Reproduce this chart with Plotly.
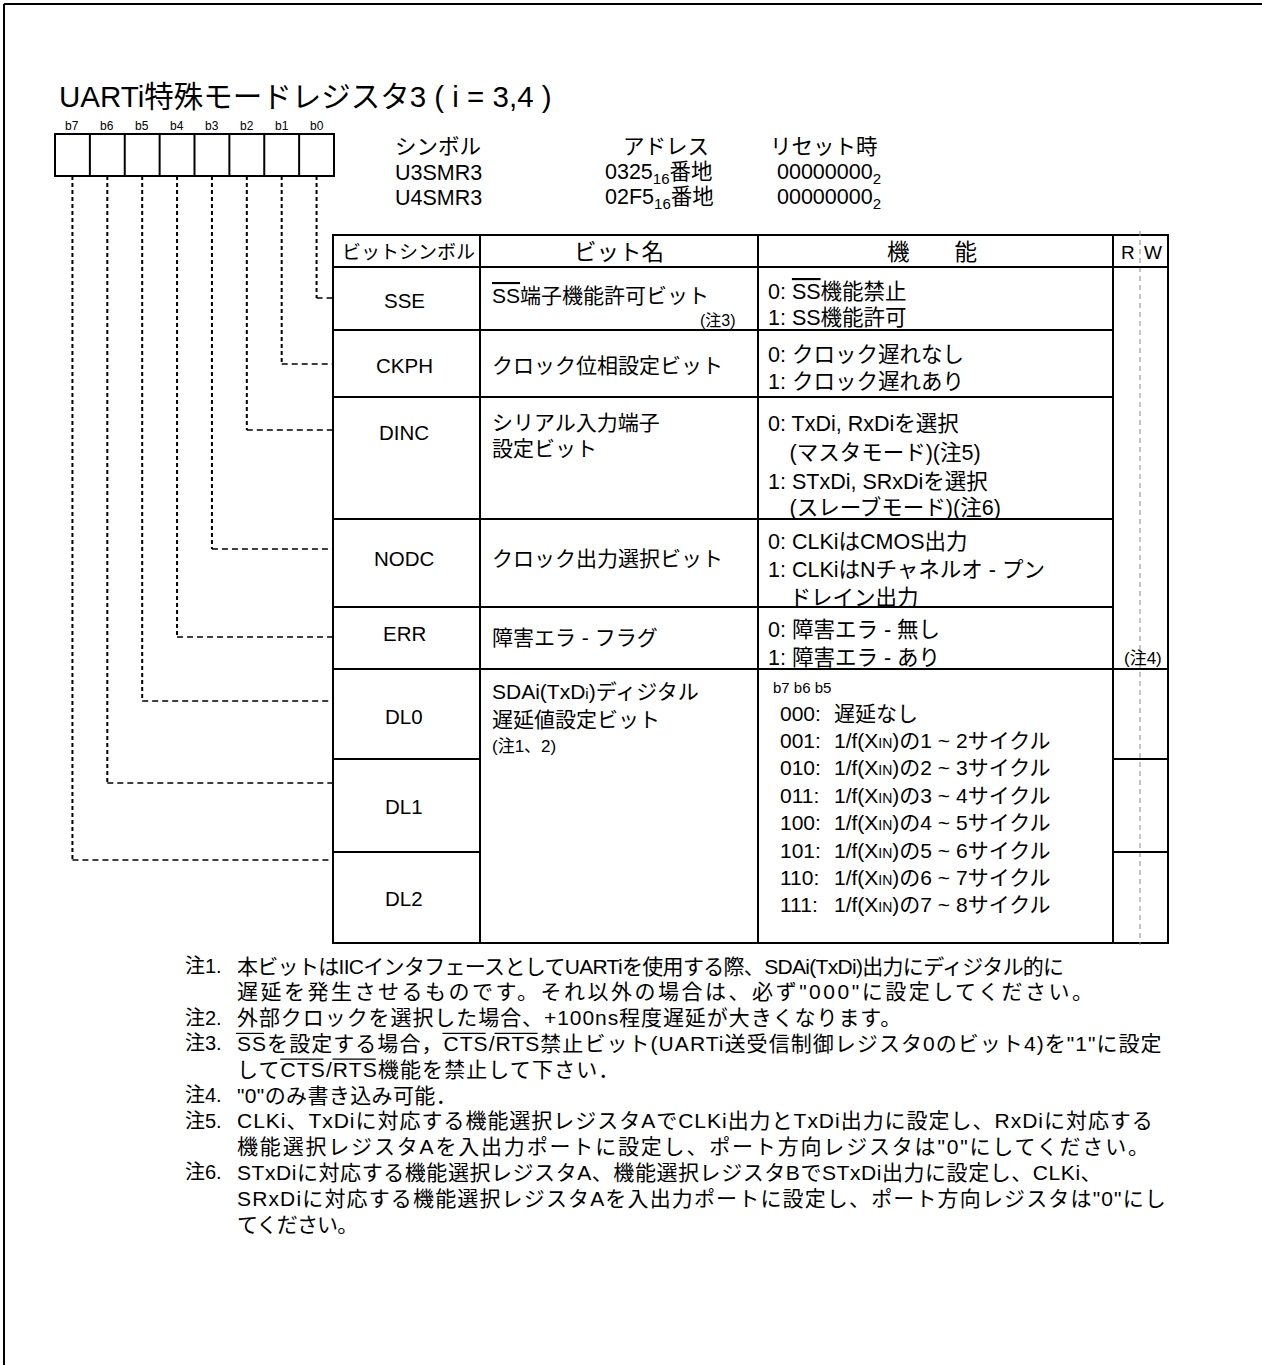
import re
import plotly.graph_objects as go

# ---------------- data ----------------
TITLE = "UARTi特殊モードレジスタ3 ( i = 3,4 )"
BIT_LABELS = ["b7", "b6", "b5", "b4", "b3", "b2", "b1", "b0"]
INFO_HEAD = ["シンボル", "アドレス", "リセット時"]
INFO_SYMBOLS = ["U3SMR3", "U4SMR3"]
INFO_ADDR = ["0325<sub>16</sub>番地", "02F5<sub>16</sub>番地"]
INFO_RESET = ["00000000<sub>2</sub>", "00000000<sub>2</sub>"]
TABLE_HEAD = ["ビットシンボル", "ビット名", "機　　能", "R", "W"]

OV = '<span style="text-decoration:overline">{}</span>'
SYMBOLS = ["SSE", "CKPH", "DINC", "NODC", "ERR", "DL0", "DL1", "DL2"]
BIT_NAMES = [
    [OV.format("SS") + "端子機能許可ビット"],
    ["クロック位相設定ビット"],
    ["シリアル入力端子", "設定ビット"],
    ["クロック出力選択ビット"],
    ["障害エラ - フラグ"],
    ["SDAi(TxD<span style='font-size:15px'>i</span>)ディジタル", "遅延値設定ビット"],
]
BIT_NAME_NOTES = ["(注3)", None, None, None, None, "(注1、2)"]
FUNCTIONS = [
    ["0: " + OV.format("SS") + "機能禁止", "1: SS機能許可"],
    ["0: クロック遅れなし", "1: クロック遅れあり"],
    ["0: TxDi, RxDiを選択", "\u3000(マスタモード)(注5)", "1: STxDi, SRxDiを選択", "\u3000(スレーブモード)(注6)"],
    ["0: CLKiはCMOS出力", "1: CLKiはNチャネルオ - プン", "\u3000ドレイン出力"],
    ["0: 障害エラ - 無し", "1: 障害エラ - あり"],
]
RW_NOTES = ["", "", "", "", "(注4)"]
DL_HEAD = "b7 b6 b5"
DL_CODES = ["000", "001", "010", "011", "100", "101", "110", "111"]
XIN = "X<span style='font-size:14px'>IN</span>"
DL_VALUES = ["遅延なし"] + [f"1/f({XIN})の{k} ~ {k+1}サイクル" for k in range(1, 8)]

# [..] marks an overlined word
NOTE_LABELS = ["注1.", "注2.", "注3.", "注4.", "注5.", "注6."]
NOTE_TEXTS = [
    ["本ビットはIICインタフェースとしてUARTiを使用する際、SDAi(TxDi)出力にディジタル的に",
     "遅延を発生させるものです。それ以外の場合は、必ず\"000\"に設定してください。"],
    ["外部クロックを選択した場合、+100ns程度遅延が大きくなります。"],
    ["[SS]を設定する場合，[CTS]/[RTS]禁止ビット(UARTi送受信制御レジスタ0のビット4)を\"1\"に設定",
     "して[CTS]/[RTS]機能を禁止して下さい．"],
    ["\"0\"のみ書き込み可能．"],
    ["CLKi、TxDiに対応する機能選択レジスタAでCLKi出力とTxDi出力に設定し、RxDiに対応する",
     "機能選択レジスタAを入出力ポートに設定し、ポート方向レジスタは\"0\"にしてください。"],
    ["STxDiに対応する機能選択レジスタA、機能選択レジスタBでSTxDi出力に設定し、CLKi、",
     "SRxDiに対応する機能選択レジスタAを入出力ポートに設定し、ポート方向レジスタは\"0\"にし",
     "てください。"],
]

# ---------------- layout constants ----------------
W, H = 1262, 1365
FONT = "Liberation Sans, Arial, Noto Sans CJK JP, sans-serif"
BOX_X0, BOX_X1, BOX_Y0, BOX_Y1 = 55, 334, 134, 176
T_X0, T_X1, T_X2, T_X3, T_X4 = 333, 480, 758, 1113, 1168
RW_MID = 1140
T_TOP, T_HEAD = 235, 267
ROW_BOTTOMS = [330, 397, 519, 607, 669, 759, 852, 943]
SYM_Y = [300, 365, 432, 558, 633, 716, 806, 898]
CONNECT_Y = [298, 364, 430, 549, 637, 701, 783, 860]  # for b0..b7
NOTE_FS = 21
NOTE_X = 235
NOTE_LINE_ENDS = [1066, 1097, 902, 1162, 620, 455, 1152, 1150, 1100, 1165, 356]

# Arial / Liberation Sans advance widths (em)
_W = {" ": 278, "!": 278, '"': 355, "(": 333, ")": 333, "+": 584, ",": 278, "-": 333,
      ".": 278, "/": 278, ":": 278, "=": 584, "~": 584}
for ch in "0123456789":
    _W[ch] = 556
for ch, w in zip("ABCDEFGHIJKLMNOPQRSTUVWXYZ",
                 [667, 667, 722, 722, 667, 611, 778, 722, 278, 500, 667, 556, 833,
                  722, 778, 667, 778, 722, 667, 611, 722, 667, 944, 667, 667, 611]):
    _W[ch] = w
for ch, w in zip("abcdefghijklmnopqrstuvwxyz",
                 [556, 556, 500, 556, 556, 278, 556, 556, 222, 222, 500, 222, 833,
                  556, 556, 556, 556, 333, 500, 278, 556, 500, 722, 500, 500, 500]):
    _W[ch] = w


def text_em(s):
    return sum(_W.get(ch, 1000 if ord(ch) > 0x2000 else 556) for ch in s) / 1000.0


fig = go.Figure()
shapes = []
ann = []


def line(x0, y0, x1, y1, width=2, dash=None, color="#000"):
    d = dict(type="line", x0=x0, y0=y0, x1=x1, y1=y1, xref="x", yref="y",
             line=dict(color=color, width=width))
    if dash:
        d["line"]["dash"] = dash
    shapes.append(d)


def txt(x, y, s, size=20, anchor="left", yanchor="middle"):
    ann.append(dict(x=x, y=y, xref="x", yref="y", text=s, showarrow=False,
                    xanchor=anchor, yanchor=yanchor,
                    font=dict(family=FONT, size=size, color="#000")))


# page border (left and top)
line(4, 4, W, 4, width=2)
line(4, 4, 4, H, width=2)

# title
txt(57, 96, TITLE, size=29.5)

# register bit boxes
cw = (BOX_X1 - BOX_X0) / 8
shapes.append(dict(type="rect", x0=BOX_X0, x1=BOX_X1, y0=BOX_Y0, y1=BOX_Y1,
                   xref="x", yref="y", line=dict(color="#000", width=2)))
for i in range(1, 8):
    line(BOX_X0 + i * cw, BOX_Y0, BOX_X0 + i * cw, BOX_Y1, width=2)
for i, lab in enumerate(BIT_LABELS):
    txt(BOX_X0 + (i + 0.5) * cw, 126, lab, size=12, anchor="center")

# connectors (b7 ... b0)
for i in range(8):
    cx = BOX_X0 + (i + 0.5) * cw
    cy = CONNECT_Y[7 - i]
    line(cx, BOX_Y1, cx, cy, width=2, dash="4px,3px")
    line(cx, cy, T_X0, cy, width=1.5, dash="6px,4px")

# info block
info_x = [393, 621, 768]
for j, h in enumerate(INFO_HEAD):
    txt(info_x[j], 147, h, size=21.5)
for k in range(2):
    y = 173 + k * 25
    txt(393, y, INFO_SYMBOLS[k], size=21.5)
    txt(603, y, INFO_ADDR[k], size=21.5)
    txt(775, y, INFO_RESET[k], size=21.5)

# table frame
shapes.append(dict(type="rect", x0=T_X0, x1=T_X4, y0=T_TOP, y1=ROW_BOTTOMS[-1],
                   xref="x", yref="y", line=dict(color="#000", width=2)))
for x in (T_X1, T_X2, T_X3):
    line(x, T_TOP, x, ROW_BOTTOMS[-1], width=2)
line(RW_MID, T_TOP - 4, RW_MID, ROW_BOTTOMS[-1] + 2, width=1, dash="5px,4px", color="#888")
line(T_X0, T_HEAD, T_X4, T_HEAD, width=2)
for r, yb in enumerate(ROW_BOTTOMS[:-1]):
    if r < 4:
        line(T_X0, yb, T_X3, yb, width=2)
    elif r == 4:
        line(T_X0, yb, T_X4, yb, width=2)
    else:
        line(T_X0, yb, T_X1, yb, width=2)
        line(T_X3, yb, T_X4, yb, width=2)

# header
txt((T_X0 + T_X1) / 2 + 2, 252, TABLE_HEAD[0], size=19, anchor="center")
txt((T_X1 + T_X2) / 2, 252, TABLE_HEAD[1], size=22.5, anchor="center")
txt(932, 252, TABLE_HEAD[2], size=22.5, anchor="center")
txt(1128, 252, TABLE_HEAD[3], size=19, anchor="center")
txt(1153, 252, TABLE_HEAD[4], size=19, anchor="center")

# bit symbols
for s, y in zip(SYMBOLS, SYM_Y):
    txt(404, y, s, size=20.5, anchor="center")

# bit names
NAME_Y = [[295], [365], [422, 448], [558], [637], [691, 719]]
for names, ys in zip(BIT_NAMES, NAME_Y):
    for s, y in zip(names, ys):
        txt(490, y, s, size=21)
txt(738, 320, BIT_NAME_NOTES[0], size=16, anchor="right")
txt(490, 746, BIT_NAME_NOTES[5], size=17)

# functions
FUNC_Y = [[292, 318], [355, 382], [424, 453, 482, 508], [542, 570, 598], [630, 658]]
for funcs, ys in zip(FUNCTIONS, FUNC_Y):
    for s, y in zip(funcs, ys):
        txt(766, y, s, size=21.5)
txt(1143, 658, RW_NOTES[4], size=17, anchor="center")

# delay table
txt(771, 687, DL_HEAD, size=15)
for k, (c, v) in enumerate(zip(DL_CODES, DL_VALUES)):
    y = 713 + k * 27.4
    txt(778, y, c + ":", size=21)
    txt(832, y, v, size=21)

# notes (letter spacing tuned per line so line lengths follow the original)
ny = 966
step = 25.8
li = 0
for lab, lines in zip(NOTE_LABELS, NOTE_TEXTS):
    txt(183, ny, lab, size=20)
    for ln in lines:
        plain = ln.replace("[", "").replace("]", "")
        natural = text_em(plain) * NOTE_FS
        ls = (NOTE_LINE_ENDS[li] - NOTE_X - natural) / len(plain)
        txt(NOTE_X, ny, f'<span style="letter-spacing:{ls:.2f}px">{plain}</span>', size=NOTE_FS)
        for m in re.finditer(r"\[([^\]]+)\]", ln):
            prefix = ln[:m.start()].replace("[", "").replace("]", "")
            word = m.group(1)
            xa = NOTE_X + 1 + text_em(prefix) * NOTE_FS + len(prefix) * ls
            xb = xa + text_em(word) * NOTE_FS + (len(word) - 1) * ls - 1
            line(xa, ny - 10, xb, ny - 10, width=1.2)
        ny += step
        li += 1

fig.update_layout(
    width=W, height=H, margin=dict(l=0, r=0, t=0, b=0),
    paper_bgcolor="white", plot_bgcolor="white",
    xaxis=dict(range=[0, W], visible=False, fixedrange=True),
    yaxis=dict(range=[H, 0], visible=False, fixedrange=True),
    shapes=shapes, annotations=ann, showlegend=False,
)
fig.write_html("out.html", config={"displayModeBar": False},
               post_script="document.body.style.margin='0';")
